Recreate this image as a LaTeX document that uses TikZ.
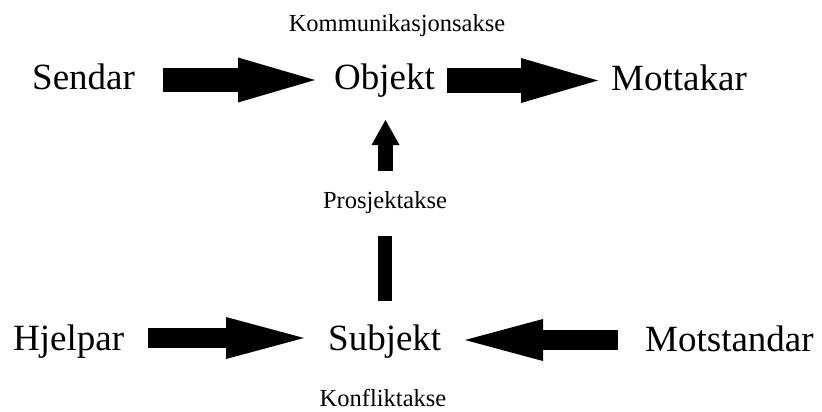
\documentclass[tikz,border=0pt]{standalone}
\usepackage{fontspec}
\setmainfont{Liberation Serif}
\usetikzlibrary{arrows.meta}
\begin{document}
\begin{tikzpicture}[x=1pt,y=-1pt,
  bigtext/.style={font=\fontsize{37}{44}\selectfont, inner sep=0pt, anchor=base west},
  smalltext/.style={font=\fontsize{24.5}{30}\selectfont, inner sep=0pt, anchor=base},
  hbig/.style={line width=24pt, -{Triangle[length=77pt,width=45pt,line width=0pt]}},
  hlow/.style={line width=20pt, -{Triangle[length=78pt,width=42pt,line width=0pt]}},
  vup/.style={line width=15pt, -{Triangle[length=25pt,width=28pt,line width=0pt]}},
  vshaft/.style={line width=14pt}
]
\useasboundingbox (0,0) rectangle (822,412);
% texts
\node[smalltext] (komm) at (397,32) {Kommunikasjonsakse};
\node[bigtext] (send) at (32,89) {Sendar};
\node[bigtext] (obj) at (334,89) {Objekt};
\node[bigtext] (mott) at (611,90) {Mottakar};
\node[smalltext] (pros) at (385,208) {Prosjektakse};
\node[bigtext] (hjel) at (13,350) {Hjelpar};
\node[bigtext] (subj) at (328,350) {Subjekt};
\node[bigtext] (mots) at (645,351) {Motstandar};
\node[smalltext] (konf) at (383,406) {Konfliktakse};
% arrow end points
\coordinate (a1s) at (163,80);
\coordinate (a1e) at (315,80);
\coordinate (a2s) at (447,80.5);
\coordinate (a2e) at (598,80.5);
\coordinate (vs) at (385.5,171);
\coordinate (ve) at (385.5,120);
\coordinate (ls) at (385,301);
\coordinate (le) at (385,236);
\coordinate (a3s) at (148,338);
\coordinate (a3e) at (304,338);
\coordinate (a4s) at (618,340);
\coordinate (a4e) at (465,340);
% arrows
\draw[hbig] (a1s) -- (a1e);
\draw[hbig] (a2s) -- (a2e);
\draw[vup] (vs) -- (ve);
\draw[vshaft] (ls) -- (le);
\draw[hlow] (a3s) -- (a3e);
\draw[hlow] (a4s) -- (a4e);
\end{tikzpicture}
\end{document}
